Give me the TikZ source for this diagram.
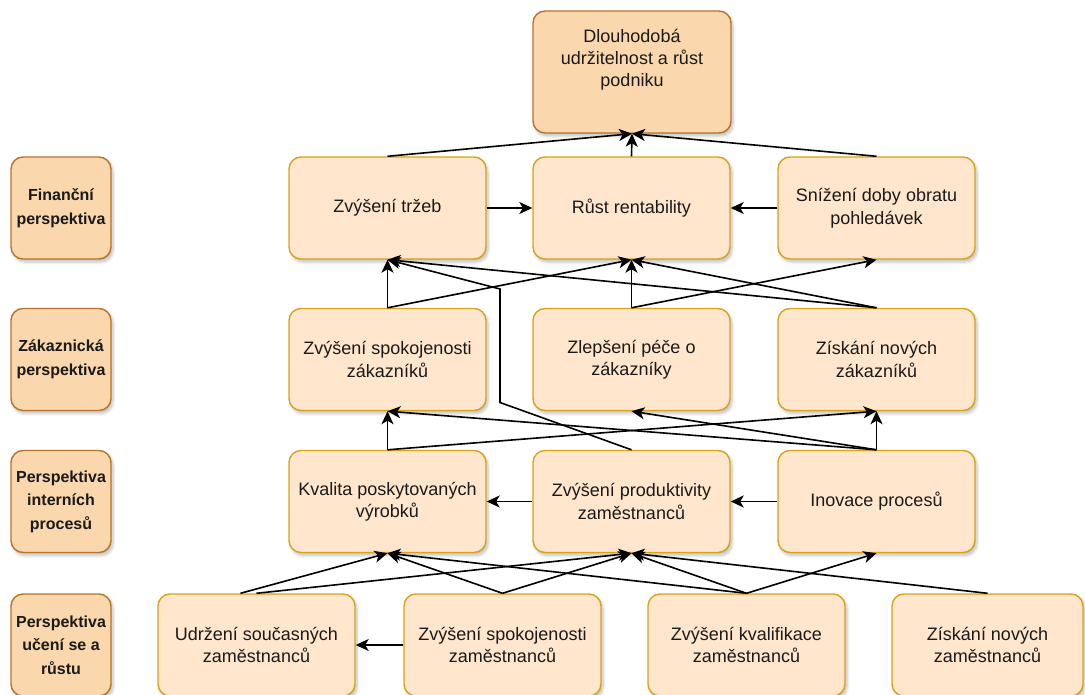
\documentclass[tikz,border=0pt]{standalone}
\usepackage{fontspec}
\setmainfont{Liberation Sans}
\usetikzlibrary{arrows.meta,shadows.blur}
\definecolor{lightfill}{HTML}{FFE6CC}
\definecolor{lightdraw}{HTML}{D9A21B}
\definecolor{darkfill}{HTML}{FAD7AC}
\definecolor{darkdraw}{HTML}{B8732A}
\definecolor{txtcol}{HTML}{1A1A1A}
\tikzset{
  box/.style={draw=lightdraw, fill=lightfill, line width=1.4pt, rounded corners=12pt,
    minimum width=197pt, minimum height=102pt, inner sep=0pt, align=center,
    text=txtcol, font=\fontsize{18}{22.5}\selectfont,
    blur shadow={shadow xshift=2pt, shadow yshift=-3pt, shadow blur steps=6, shadow blur radius=3pt, shadow opacity=25}},
  perspbox/.style={draw=darkdraw, fill=darkfill, line width=1.4pt, rounded corners=12pt,
    minimum width=100pt, minimum height=102pt, inner sep=0pt, align=center,
    text=txtcol, font=\fontsize{16}{23.5}\selectfont\bfseries,
    blur shadow={shadow xshift=2pt, shadow yshift=-3pt, shadow blur steps=6, shadow blur radius=3pt, shadow opacity=25}},
  goalbox/.style={draw=darkdraw, fill=darkfill, line width=1.4pt, rounded corners=12pt,
    minimum width=198pt, minimum height=122pt, inner sep=0pt,
    blur shadow={shadow xshift=2pt, shadow yshift=-3pt, shadow blur steps=6, shadow blur radius=3pt, shadow opacity=25}},
  goaltext/.style={align=center, inner sep=0pt, text=txtcol, font=\fontsize{18}{22}\selectfont},
  conn/.style={draw=black, line width=1.6pt, -{Stealth[length=13pt,width=12pt,inset=3.5pt]}},
}
\begin{document}
\begin{tikzpicture}[x=1pt,y=-1pt]
\useasboundingbox (0,0) rectangle (1085,695);

% goal
\node[goalbox] (goal) at (632,72) {};
\node[goaltext] (goaltxt) at (632,60) {Dlouhodobá\\udržitelnost a růst\\podniku};

% perspective labels
\node[perspbox] (l1) at (61,208) {Finanční\\perspektiva};
\node[perspbox] (l2) at (61,359.5) {Zákaznická\\perspektiva};
\node[perspbox] (l3) at (61,501.5) {Perspektiva\\interních\\procesů};
\node[perspbox] (l4) at (61,645) {Perspektiva\\učení se a\\růstu};

% row 1
\node[box] (trzby) at (387.5,208) {Zvýšení tržeb};
\node[box] (rentab) at (631.5,208) {Růst rentability};
\node[box] (snizeni) at (876.5,208) {Snížení doby obratu\\pohledávek};

% row 2
\node[box] (spokzak) at (387.5,359.5) {Zvýšení spokojenosti\\zákazníků};
\node[box] (pece) at (631.5,359.5) {Zlepšení péče o\\zákazníky};
\node[box] (ziskzak) at (876.5,359.5) {Získání nových\\zákazníků};

% row 3
\node[box] (kvalita) at (387.5,501.5) {Kvalita poskytovaných\\výrobků};
\node[box] (produkt) at (631.5,501.5) {Zvýšení produktivity\\zaměstnanců};
\node[box] (inov) at (876.5,501.5) {Inovace procesů};

% row 4
\node[box] (udrz) at (256.5,645) {Udržení současných\\zaměstnanců};
\node[box] (spokzam) at (502.5,645) {Zvýšení spokojenosti\\zaměstnanců};
\node[box] (kvalif) at (746.5,645) {Zvýšení kvalifikace\\zaměstnanců};
\node[box, minimum width=191pt] (ziskzam) at (987.5,645) {Získání nových\\zaměstnanců};

% bend points
\coordinate (bp1) at (500,402.5);
\coordinate (bp2) at (500,289);

% to goal
\draw[conn] (trzby.north) -- (goal.south);
\draw[conn] (rentab.north) -- (goal.south);
\draw[conn] (snizeni.north) -- (goal.south);

% row 1 horizontal
\draw[conn] (trzby.east) -- (rentab.west);
\draw[conn] (snizeni.west) -- (rentab.east);

% row 2 -> row 1
\draw[conn] (spokzak.north) -- (trzby.south);
\draw[conn] (spokzak.north) -- (rentab.south);
\draw[conn] (produkt.north) -- (bp1) -- (bp2) -- (trzby.south);
\draw[conn] (ziskzak.north) -- (trzby.south);
\draw[conn] (ziskzak.north) -- (rentab.south);
\draw[conn] (pece.north) -- (rentab.south);
\draw[conn] (pece.north) -- (snizeni.south);

% row 3 -> row 2
\draw[conn] (kvalita.north) -- (spokzak.south);
\draw[conn] (kvalita.north) -- (ziskzak.south);
\draw[conn] (inov.north) -- (ziskzak.south);
\draw[conn] (inov.north) -- (spokzak.south);
\draw[conn] (inov.north) -- (pece.south);

% row 3 horizontal
\draw[conn] (produkt.west) -- (kvalita.east);
\draw[conn] (inov.west) -- (produkt.east);

% row 4 -> row 3
\draw[conn] ([xshift=-16pt]udrz.north) -- (kvalita.south);
\draw[conn] (udrz.north) -- (produkt.south);
\draw[conn] (spokzam.north) -- (kvalita.south);
\draw[conn] (spokzam.north) -- (produkt.south);
\draw[conn] (kvalif.north) -- (kvalita.south);
\draw[conn] (kvalif.north) -- (produkt.south);
\draw[conn] (kvalif.north) -- (inov.south);
\draw[conn] (ziskzam.north) -- (produkt.south);

% row 4 horizontal
\draw[conn] (spokzam.west) -- (udrz.east);
\end{tikzpicture}
\end{document}
